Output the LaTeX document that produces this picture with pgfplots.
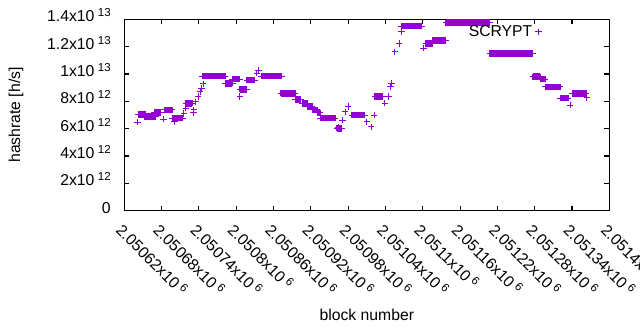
\documentclass[border=0pt]{standalone}
\usepackage{pgfplots}
\usepackage{pgfplotstable}
\pgfplotsset{compat=1.18}
\usepackage{fontspec}
\setmainfont{Liberation Sans}
\definecolor{sv}{RGB}{148,0,211}
\newcommand\sx[1]{\hspace{2.4pt}\raisebox{3.6pt}{\fontsize{8.2}{9}\selectfont #1}}
\newcommand\mf{\fontsize{11.2}{13.4}\selectfont}

% x = block number - 2050000 (offset keeps TeX precision)
% constant-hashrate runs: start block, end block (nan rows split the runs)
\pgfplotstableread{
x y
643 7.05e12
654 7.05e12
654 nan
652 6.88e12
670 6.88e12
670 nan
668 7.17e12
679 7.17e12
679 nan
684 7.37e12
697 7.37e12
697 nan
697 6.78e12
714 6.78e12
714 nan
719 7.86e12
729 7.86e12
729 nan
745 9.85e12
782 9.85e12
782 nan
782 9.32e12
794 9.32e12
794 nan
794 9.63e12
806 9.63e12
806 nan
806 8.88e12
817 8.88e12
817 nan
817 9.56e12
830 9.56e12
830 nan
840 9.85e12
873 9.85e12
873 nan
872 8.59e12
895 8.59e12
895 nan
895 8.15e12
904 8.15e12
904 nan
906 7.84e12
914 7.84e12
914 nan
914 7.62e12
922 7.62e12
922 nan
922 7.37e12
930 7.37e12
930 nan
930 7.15e12
935 7.15e12
935 nan
935 6.78e12
959 6.78e12
959 nan
962 6.03e12
970 6.03e12
970 nan
986 7.00e12
1007 7.00e12
1007 nan
1023 8.35e12
1036 8.35e12
1036 nan
1066 13.51e12
1098 13.51e12
1098 nan
1105 12.23e12
1115 12.23e12
1115 nan
1115 12.43e12
1137 12.43e12
1137 nan
1137 13.75e12
1208 13.75e12
1208 nan
1208 11.51e12
1277 11.51e12
1277 nan
1277 9.80e12
1289 9.80e12
1289 nan
1289 9.63e12
1297 9.63e12
1297 nan
1297 9.05e12
1321 9.05e12
1321 nan
1321 8.24e12
1334 8.24e12
1334 nan
1340 8.59e12
1363 8.59e12
}\runs

% isolated blocks
\pgfplotstableread{
x y
641 6.47e12
683 6.69e12
701 6.51e12
716 7.12e12
719 7.49e12
731 7.17e12
732 7.37e12
735 7.97e12
739 8.34e12
742 8.70e12
744 8.95e12
747 9.27e12
806 8.34e12
833 10.05e12
836 10.29e12
964 6.10e12
967 5.98e12
971 6.63e12
975 7.24e12
980 7.61e12
1010 6.51e12
1017 6.14e12
1022 7.00e12
1039 7.86e12
1045 8.34e12
1048 9.07e12
1050 9.32e12
1055 11.63e12
1062 12.24e12
1066 13.09e12
1101 11.88e12
1337 7.73e12
1364 8.29e12
}\single

\begin{document}
\begin{tikzpicture}[font=\mf]
\path[use as bounding box] (0,0) rectangle (16cm,8.25cm);
\begin{axis}[
  at={(3.1075cm,2.9825cm)}, anchor=south west,
  scale only axis, width=12.125cm, height=4.785cm,
  xmin=620, xmax=1400, ymin=0, ymax=1.4e13,
  scaled ticks=false,
  axis line style={line width=0.75pt},
  every tick/.style={black, line width=0.75pt},
  tick align=inside, major tick length=0.125cm,
  tick label style={font=\mf},
  label style={font=\mf},
  xtick={620,680,...,1400},
  xticklabels={2.05062x10\sx{6},2.05068x10\sx{6},2.05074x10\sx{6},2.0508x10\sx{6},2.05086x10\sx{6},2.05092x10\sx{6},2.05098x10\sx{6},2.05104x10\sx{6},2.0511x10\sx{6},2.05116x10\sx{6},2.05122x10\sx{6},2.05128x10\sx{6},2.05134x10\sx{6},2.0514x10\sx{6}},
  ytick={0,2e12,4e12,6e12,8e12,1e13,1.2e13,1.4e13},
  yticklabels={0,2x10\sx{12},4x10\sx{12},6x10\sx{12},8x10\sx{12},1x10\sx{13},1.2x10\sx{13},1.4x10\sx{13}},
  xticklabel shift=7.9pt,
  xticklabel style={inner sep=0pt, rotate=-45, anchor=north west},
  yticklabel style={inner sep=0pt, anchor=base east, xshift=-9.5pt, yshift=-1.85pt},
  xlabel={block number}, ylabel={hashrate [h/s]},
  every axis x label/.style={at={(axis description cs:0.5,-0.545)}, anchor=center},
  every axis y label/.style={at={(axis description cs:-0.2233,0.5)}, anchor=center, rotate=90},
  legend plot pos=right,
  legend style={draw=none, fill=none, font=\mf, at={(axis description cs:0.8696,0.935)}, anchor=east},
  unbounded coords=jump,
]
\addplot[sv, line width=4.7pt, mark=+, mark size=2.27pt, mark options={line width=0.71pt, solid}, forget plot] table {\runs};
\addplot[sv, only marks, mark=+, mark size=2.27pt, mark options={line width=0.71pt}] table {\single};
\addlegendentry{SCRYPT}
\end{axis}
\end{tikzpicture}
\end{document}
